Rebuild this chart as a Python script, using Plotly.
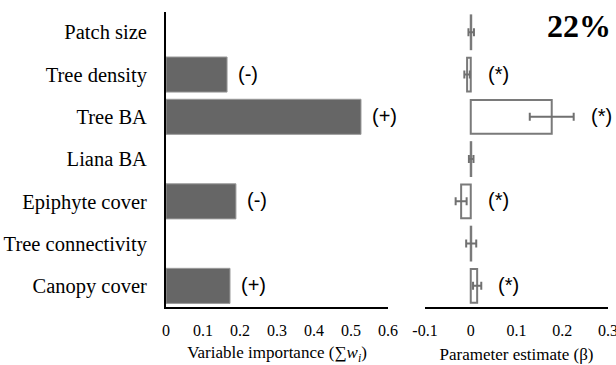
import plotly.graph_objects as go

# ---- data ----
categories = ["Patch size", "Tree density", "Tree BA", "Liana BA",
              "Epiphyte cover", "Tree connectivity", "Canopy cover"]
importance = [None, 0.165, 0.527, None, 0.189, None, 0.173]
importance_sign = ["", "(-)", "(+)", "", "(-)", "", "(+)"]
beta = [0.001, -0.008, 0.177, 0.001, -0.021, 0.001, 0.014]
beta_err = [0.006, 0.006, 0.048, 0.005, 0.012, 0.011, 0.009]
beta_sig = ["", "(*)", "(*)", "", "(*)", "", "(*)"]
importance_ticks = [0, 0.1, 0.2, 0.3, 0.4, 0.5, 0.6]
importance_ticktext = ["0", "0.1", "0.2", "0.3", "0.4", "0.5", "0.6"]
beta_ticks = [-0.1, 0, 0.1, 0.2, 0.3]
beta_ticktext = ["-0.1", "0", "0.1", "0.2", "0.3"]
r2_label = "22%"

W, H = 616, 365
SERIF = "Liberation Serif, Times New Roman, serif"
SANS = "Liberation Sans, Arial, sans-serif"

fig = go.Figure()

fig.add_trace(go.Bar(
    x=importance, y=categories, orientation="h", width=0.83,
    marker=dict(color="#666666", line=dict(color="#9a9a9a", width=1)),
    xaxis="x", yaxis="y", showlegend=False, hoverinfo="skip",
))

fig.add_trace(go.Bar(
    x=beta, y=categories, orientation="h", width=0.8,
    marker=dict(color="white", line=dict(color="#7a7a7a", width=2)),
    error_x=dict(type="data", array=beta_err, color="#707070", thickness=2, width=4),
    xaxis="x2", yaxis="y2", showlegend=False, hoverinfo="skip",
))

annotations = []
for cat, v, s in zip(categories, importance, importance_sign):
    if v is not None and s:
        annotations.append(dict(
            xref="x", yref="y", x=v, y=cat, text=s, showarrow=False,
            xanchor="left", yanchor="middle", xshift=9, yshift=1,
            font=dict(family=SANS, size=20, color="black")))
for cat, v, e, s in zip(categories, beta, beta_err, beta_sig):
    if s:
        annotations.append(dict(
            xref="x2", yref="y2", x=max(0, v + e), y=cat, text=s, showarrow=False,
            xanchor="left", yanchor="middle", xshift=15, yshift=1,
            font=dict(family=SANS, size=20, color="black")))
annotations.append(dict(
    xref="paper", yref="paper", x=613 / W, y=(307 - 26) / 295,
    text="<b>" + r2_label + "</b>",
    showarrow=False, xanchor="right", yanchor="middle",
    font=dict(family=SERIF, size=32, color="black")))

fig.update_layout(
    width=W, height=H,
    margin=dict(l=0, r=0, t=12, b=58, autoexpand=False),
    paper_bgcolor="white", plot_bgcolor="white",
    font=dict(family=SERIF, color="black"),
    barmode="overlay",
    xaxis=dict(domain=[166 / W, 388 / W], range=[0, 0.6], anchor="y",
               tickvals=importance_ticks, ticktext=importance_ticktext,
               showline=True, linecolor="black", linewidth=2,
               showgrid=False, zeroline=False, ticks="",
               ticklabelstandoff=8,
               tickfont=dict(family=SERIF, size=16, color="black"),
               title=dict(text="Variable importance (∑<i>w<sub>i</sub></i>)",
                          font=dict(family=SERIF, size=17, color="black"), standoff=10)),
    yaxis=dict(type="category", categoryorder="array", categoryarray=categories,
               range=[6.5, -0.48], anchor="x",
               showline=True, linecolor="black", linewidth=2,
               showgrid=False, zeroline=False, ticks="",
               ticklabelstandoff=13,
               tickfont=dict(family=SERIF, size=20.5, color="black")),
    xaxis2=dict(domain=[425 / W, 608 / W], range=[-0.1, 0.3], anchor="y2",
                tickvals=beta_ticks, ticktext=beta_ticktext,
                showline=True, linecolor="black", linewidth=2,
                showgrid=False, zeroline=False, ticks="",
                ticklabelstandoff=8, ticklabeloverflow="allow",
                tickfont=dict(family=SERIF, size=16, color="black"),
                title=dict(text="Parameter estimate (β)",
                           font=dict(family=SERIF, size=17, color="black"), standoff=10)),
    yaxis2=dict(type="category", categoryorder="array", categoryarray=categories,
                range=[6.5, -0.48], anchor="x2", matches="y",
                showline=False, showticklabels=False, showgrid=False,
                zeroline=False, ticks=""),
    annotations=annotations,
)

# remove the default 8px page margin so the 616x365 figure fills the window exactly
fig.write_html(
    "out.html",
    config={"displayModeBar": False},
    post_script="document.body.style.margin='0';document.body.style.overflow='hidden';",
)
